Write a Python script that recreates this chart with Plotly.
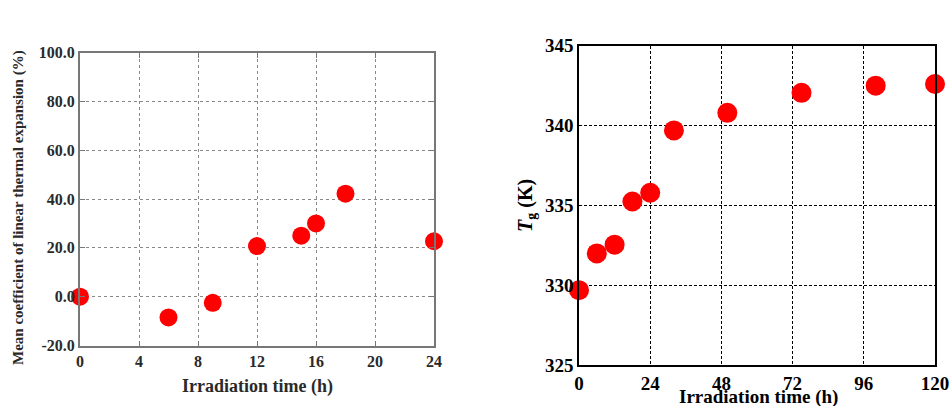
import plotly.graph_objects as go

# Left chart data
cte_time = [0, 6, 9, 12, 15, 16, 18, 24]
cte_value = [0.0, -8.5, -2.5, 20.7, 25.0, 30.0, 42.2, 22.7]
cte_yticks = [-20, 0, 20, 40, 60, 80, 100]
cte_ytext = ["-20.0", "0.0", "20.0", "40.0", "60.0", "80.0", "100.0"]
cte_xticks = [0, 4, 8, 12, 16, 20, 24]

# Right chart data
tg_time = [0, 6, 12, 18, 24, 32, 50, 75, 100, 120]
tg_value = [329.7, 332.0, 332.55, 335.25, 335.8, 339.7, 340.8, 342.05, 342.5, 342.6]
tg_yticks = [325, 330, 335, 340, 345]
tg_xticks = [0, 24, 48, 72, 96, 120]

W, H = 951, 406
def px(x): return x / W
def py(y): return 1 - y / H
def bold(vals): return ["<b>%s</b>" % v for v in vals]

fig = go.Figure()
fig.add_trace(go.Scatter(x=cte_time, y=cte_value, mode="markers",
                         marker=dict(color="#ff0000", size=18, line=dict(width=0)),
                         cliponaxis=False, xaxis="x", yaxis="y", showlegend=False))
fig.add_trace(go.Scatter(x=tg_time, y=tg_value, mode="markers",
                         marker=dict(color="#ff0000", size=20, line=dict(width=0)),
                         cliponaxis=False, xaxis="x2", yaxis="y2", showlegend=False))

serif = "Liberation Serif"
lfont = dict(family=serif, size=16, color="#2a2a2a")
rfont = dict(family=serif, size=19, color="black")

fig.update_layout(
    width=W, height=H, margin=dict(l=0, r=0, t=0, b=0, autoexpand=False),
    paper_bgcolor="white", plot_bgcolor="white",
    xaxis=dict(domain=[px(80), px(434)], anchor="y", range=[0, 24], automargin=False,
               tickvals=cte_xticks, ticktext=bold(cte_xticks), tickfont=lfont,
               ticks="inside", ticklen=5, tickcolor="#777",
               showline=True, linecolor="#777", linewidth=2, mirror="allticks",
               showgrid=True, gridcolor="#888", griddash="dot", gridwidth=1, zeroline=False),
    yaxis=dict(domain=[py(345.5), py(52.5)], anchor="x", range=[-20, 100], automargin=False,
               tickvals=cte_yticks, ticktext=bold(cte_ytext), tickfont=lfont,
               ticks="inside", ticklen=5, tickcolor="#777",
               showline=True, linecolor="#777", linewidth=2, mirror="allticks",
               showgrid=True, gridcolor="#888", griddash="dot", gridwidth=1, zeroline=False),
    xaxis2=dict(domain=[px(579), px(935)], anchor="y2", range=[0, 120], automargin=False,
                tickvals=tg_xticks, ticktext=bold(tg_xticks), tickfont=rfont, ticks="",
                showline=True, linecolor="black", linewidth=1.5, mirror=True,
                showgrid=True, gridcolor="black", griddash="3px,2px", gridwidth=1, zeroline=False),
    yaxis2=dict(domain=[py(365.3), py(45.7)], anchor="x2", range=[325, 345], automargin=False,
                tickvals=tg_yticks, ticktext=bold(tg_yticks), tickfont=rfont, ticks="",
                showline=True, linecolor="black", linewidth=1.5, mirror=True,
                showgrid=True, gridcolor="black", griddash="3px,2px", gridwidth=1, zeroline=False),
    annotations=[
        dict(text="<b>Irradiation time (h)</b>", x=px(257), y=py(386), xref="paper", yref="paper",
             showarrow=False, font=dict(family=serif, size=18, color="#2a2a2a"), xanchor="center", yanchor="middle"),
        dict(text="<b>Mean coefficient of linear thermal expansion (%)</b>", x=px(18), y=py(208),
             xref="paper", yref="paper", showarrow=False, textangle=-90,
             font=dict(family=serif, size=15, color="#2a2a2a"), xanchor="center", yanchor="middle"),
        dict(text="<b>Irradiation time (h)</b>", x=px(758), y=py(397), xref="paper", yref="paper",
             showarrow=False, font=dict(family=serif, size=19, color="black"), xanchor="center", yanchor="middle"),
        dict(text="<b><i>T</i><sub>g</sub> (K)</b>", x=px(526), y=py(206), xref="paper", yref="paper",
             showarrow=False, textangle=-90, font=dict(family=serif, size=20, color="black"),
             xanchor="center", yanchor="middle"),
    ],
)

fig.write_html("out.html", config={"displayModeBar": False},
               post_script="document.body.style.margin='0';document.body.style.overflow='hidden';")
